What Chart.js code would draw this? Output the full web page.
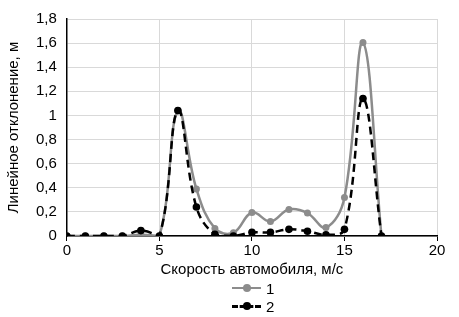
<!DOCTYPE html>
<html>
<head>
<meta charset="utf-8">
<script src="https://cdn.jsdelivr.net/npm/chart.js@4/dist/chart.umd.min.js"></script>
<style>
  html, body { margin: 0; padding: 0; background: #ffffff; }
  #wrap { position: relative; width: 459px; height: 317px; }
  #legend { position: absolute; left: 232px; top: 279px; font-family: "Liberation Sans", Arial, sans-serif; font-size: 15px; color: #000; }
  .item { display: flex; align-items: center; height: 18px; }
  .sample { position: relative; width: 29px; height: 10px; margin-right: 5px; }
  .sample .ln { position: absolute; left: 0; right: 0; top: 4px; height: 0; }
  .sample .dot { position: absolute; left: 11px; top: 1px; width: 8px; height: 8px; border-radius: 50%; }
</style>
</head>
<body>
<div id="wrap">
  <canvas id="c" width="459" height="317"></canvas>
  <div id="legend"></div>
</div>
<script>
// ---- data ----
const xValues = [0, 1, 2, 3, 4, 5, 6, 7, 8, 9, 10, 11, 12, 13, 14, 15, 16, 17];
const series1 = [0, 0, 0, 0, 0.01, 0, 1.04, 0.39, 0.063, 0.027, 0.195, 0.12, 0.22, 0.19, 0.07, 0.32, 1.605, 0];
const series2 = [0, 0, 0, 0, 0.045, 0, 1.04, 0.24, 0.014, 0, 0.03, 0.03, 0.055, 0.04, 0.01, 0.055, 1.14, 0];
const seriesNames = ['1', '2'];
const xTickLabels = ['0', '5', '10', '15', '20'];
const yTickLabels = ['0', '0,2', '0,4', '0,6', '0,8', '1', '1,2', '1,4', '1,6', '1,8'];
const xTitle = 'Скорость автомобиля, м/с';
const yTitle = 'Линейное отклонение, м';

const toPts = (ys) => xValues.map((x, i) => ({ x: x, y: ys[i] }));
const FONT = "'Liberation Sans', Arial, sans-serif";
const GRAY = '#8c8c8c';

const chart = new Chart(document.getElementById('c'), {
  type: 'line',
  data: {
    datasets: [
      { label: seriesNames[0], data: toPts(series1), borderColor: GRAY, backgroundColor: GRAY,
        borderWidth: 2.5, pointRadius: 3.5, pointBorderWidth: 0, tension: 0.4, order: 2 },
      { label: seriesNames[1], data: toPts(series2), borderColor: '#000000', backgroundColor: '#000000',
        borderWidth: 2.5, borderDash: [8, 5], pointRadius: 3.8, pointBorderWidth: 0, tension: 0.4, order: 1 }
    ]
  },
  options: {
    responsive: false,
    animation: false,
    layout: { padding: { left: 5, right: 22, top: 11, bottom: 38 } },
    plugins: { legend: { display: false }, tooltip: { enabled: false } },
    scales: {
      x: {
        type: 'linear', min: 0, max: 20,
        ticks: { stepSize: 5, color: '#000', font: { family: FONT, size: 15 }, padding: 1,
          callback: (v, i) => xTickLabels[i] },
        grid: { color: '#d9d9d9', lineWidth: 1, drawTicks: true, tickLength: 5, tickColor: '#000' },
        border: { color: '#000', width: 1.5 },
        title: { display: true, text: xTitle, color: '#000', font: { family: FONT, size: 15 }, padding: { top: 0, bottom: 0 } }
      },
      y: {
        min: 0, max: 1.8,
        ticks: { stepSize: 0.2, color: '#000', font: { family: FONT, size: 15 }, padding: 10,
          callback: (v, i) => yTickLabels[i] },
        grid: { color: '#d9d9d9', lineWidth: 1, drawTicks: false },
        border: { color: '#000', width: 1.5 },
        title: { display: true, text: yTitle, color: '#000', font: { family: FONT, size: 15 }, padding: { top: 0, bottom: 3 } }
      }
    }
  }
});

// HTML legend built from the datasets
const lg = document.getElementById('legend');
chart.data.datasets.forEach((ds) => {
  const it = document.createElement('div'); it.className = 'item';
  const s = document.createElement('div'); s.className = 'sample';
  const ln = document.createElement('div'); ln.className = 'ln';
  ln.style.borderTop = ds.borderDash ? '3px dashed ' + ds.borderColor : '2.5px solid ' + ds.borderColor;
  const dot = document.createElement('div'); dot.className = 'dot'; dot.style.background = ds.backgroundColor;
  s.appendChild(ln); s.appendChild(dot);
  const t = document.createElement('span'); t.textContent = ds.label;
  it.appendChild(s); it.appendChild(t); lg.appendChild(it);
});
</script>
</body>
</html>
